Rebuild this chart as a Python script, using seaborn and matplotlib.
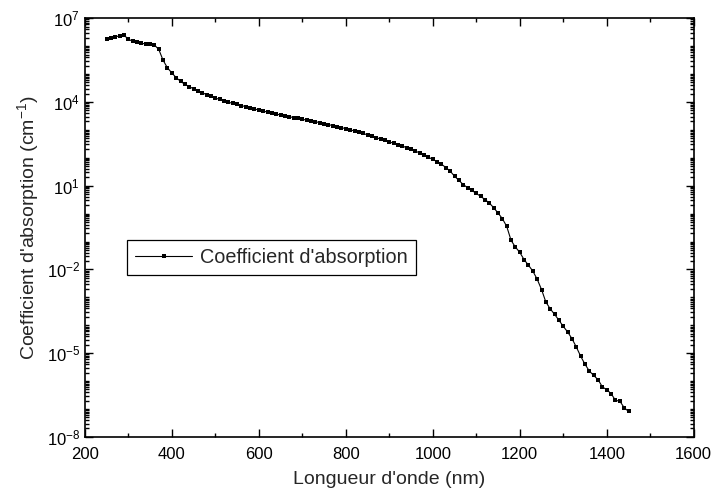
import numpy as np
import pandas as pd
import matplotlib
matplotlib.use('Agg')
import matplotlib.pyplot as plt
import matplotlib.ticker as mticker
import seaborn as sns

# Wavelength (nm) and log10 of the absorption coefficient (cm^-1)
wavelength = list(range(250, 1451, 10))
log_alpha = [
    6.27, 6.29, 6.33, 6.37, 6.39, 6.25, 6.17, 6.13, 6.10, 6.08,   # 250-340
    6.06, 6.04, 5.88, 5.49, 5.22, 5.04, 4.87, 4.74, 4.63, 4.55,   # 350-440
    4.47, 4.40, 4.33, 4.26, 4.20, 4.14, 4.09, 4.04, 3.99, 3.95,   # 450-540
    3.91, 3.87, 3.83, 3.79, 3.75, 3.71, 3.67, 3.64, 3.60, 3.57,   # 550-640
    3.53, 3.50, 3.47, 3.44, 3.41, 3.38, 3.35, 3.32, 3.29, 3.26,   # 650-740
    3.22, 3.19, 3.15, 3.11, 3.08, 3.04, 3.00, 2.96, 2.91, 2.87,   # 750-840
    2.82, 2.77, 2.72, 2.67, 2.62, 2.57, 2.52, 2.47, 2.42, 2.36,   # 850-940
    2.30, 2.24, 2.17, 2.10, 2.02, 1.94, 1.86, 1.77, 1.65, 1.52,   # 950-1040
    1.34, 1.19, 1.04, 0.93, 0.83, 0.72, 0.62, 0.50, 0.38, 0.21,   # 1050-1140
    0.02, -0.18, -0.46, -0.96, -1.20, -1.39, -1.65, -1.85, -2.06, -2.35,  # 1150-1240
    -2.72, -3.17, -3.41, -3.61, -3.82, -4.04, -4.24, -4.48, -4.78, -5.11,  # 1250-1340
    -5.40, -5.64, -5.80, -5.95, -6.21, -6.31, -6.45, -6.69, -6.72, -6.95,  # 1350-1440
    -7.09,                                                                  # 1450
]
alpha = [10 ** v for v in log_alpha]

df = pd.DataFrame({'wavelength': wavelength, 'alpha': alpha})

sns.set_style('ticks')
plt.rcParams['font.family'] = ['Liberation Sans', 'DejaVu Sans']
plt.rcParams['mathtext.fontset'] = 'custom'
plt.rcParams['mathtext.rm'] = 'Liberation Sans'
plt.rcParams['mathtext.it'] = 'Liberation Sans:italic'

fig = plt.figure(figsize=(7.13, 4.92), dpi=100)
ax = fig.add_axes([0.119, 0.112, 0.854, 0.851])

sns.lineplot(data=df, x='wavelength', y='alpha', ax=ax, color='black',
             linewidth=0.8, marker='s', markersize=3.2, markeredgewidth=0,
             label="Coefficient d'absorption")

ax.set_yscale('log')
ax.set_xlim(200, 1600)
ax.set_ylim(1e-8, 1e7)
ax.xaxis.set_major_locator(mticker.MultipleLocator(200))
ax.xaxis.set_minor_locator(mticker.MultipleLocator(100))
ax.set_yticks([10.0 ** k for k in range(-8, 8, 3)])
ax.yaxis.set_major_formatter(mticker.LogFormatterMathtext())
ax.yaxis.set_minor_locator(mticker.LogLocator(base=10, subs=np.arange(1, 10), numticks=200))
ax.yaxis.set_minor_formatter(mticker.NullFormatter())

ax.tick_params(which='both', direction='in', top=True, right=True, labelsize=12, width=1, colors='black')
ax.tick_params(which='major', length=6)
ax.tick_params(which='minor', length=3)
ax.tick_params(axis='x', which='major', pad=7)
for s in ax.spines.values():
    s.set_linewidth(1.2)
    s.set_color('black')

ax.set_xlabel("Longueur d'onde (nm)", fontsize=14, labelpad=7)
ax.set_ylabel("Coefficient d'absorption (cm$^{-1}$)", fontsize=14, labelpad=4)

leg = ax.legend(loc='upper left', bbox_to_anchor=(0.069, 0.47), fontsize=14.3,
                frameon=True, fancybox=False, edgecolor='black', framealpha=1,
                handlelength=2.9, handletextpad=0.4, borderpad=0.4,
                borderaxespad=0, markerscale=0.8)
leg.get_frame().set_linewidth(0.9)

fig.savefig('out.png', dpi=100)
